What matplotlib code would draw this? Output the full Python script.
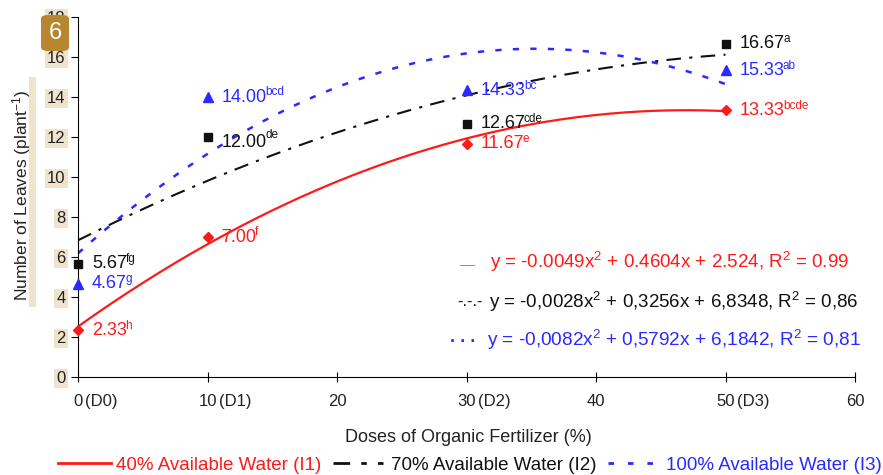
import numpy as np
import matplotlib
matplotlib.use("Agg")
import matplotlib.pyplot as plt
from matplotlib.lines import Line2D
from matplotlib.patches import FancyBboxPatch, Rectangle

# ---- data ----
doses = [0, 10, 30, 50]
i1_vals = [2.33, 7.00, 11.67, 13.33]
i2_vals = [5.67, 12.00, 12.67, 16.67]
i3_vals = [4.67, 14.00, 14.33, 15.33]
i1_letters = ["h", "f", "e", "bcde"]
i2_letters = ["fg", "de", "cde", "a"]
i3_letters = ["g", "bcd", "bc", "ab"]
i1_coef = [-0.0049, 0.4604, 2.524]
i2_coef = [-0.0028, 0.3256, 6.8348]
i3_coef = [-0.0082, 0.5792, 6.1842]
x_ticks = [0, 10, 20, 30, 40, 50, 60]
x_tick_numbers = ["0", "10", "20", "30", "40", "50", "60"]
x_tick_suffix = ["(D0)", "(D1)", "", "(D2)", "", "(D3)", ""]
y_ticks = [0, 2, 4, 6, 8, 10, 12, 14, 16, 18]
eq_texts = ["y = -0.0049x$^2$ + 0.4604x + 2.524, R$^2$ = 0.99",
            "y = -0,0028x$^2$ + 0,3256x + 6,8348, R$^2$ = 0,86",
            "y = -0,0082x$^2$ + 0,5792x + 6,1842, R$^2$ = 0,81"]
legend_labels = ["40% Available Water (I1)", "70% Available Water (I2)",
                 "100% Available Water (I3)"]

RED = "#ff1a1a"
BLACK = "#111111"
BLUE = "#2a2aff"
BEIGE = "#efe3cc"
W, H = 883, 475

plt.rcParams['font.family'] = ['Liberation Sans', 'DejaVu Sans']
plt.rcParams['mathtext.fontset'] = 'custom'
plt.rcParams['mathtext.rm'] = 'Liberation Sans'
plt.rcParams['mathtext.it'] = 'Liberation Sans'

fig = plt.figure(figsize=(8.83, 4.75), dpi=100)
ax = fig.add_axes([78 / W, (H - 377) / H, (855 - 78) / W, (377 - 17) / H])

xs = np.linspace(0, 50, 200)
ax.plot(xs, np.polyval(i1_coef, xs), color=RED, lw=1.6, ls='-')
ax.plot(xs, np.polyval(i2_coef, xs), color=BLACK, lw=1.5,
        dashes=(7, 4, 1.5, 4))
ax.plot(xs, np.polyval(i3_coef, xs), color=BLUE, lw=1.8, dashes=(2.5, 4.5))

ax.plot(doses, i2_vals, 's', color=BLACK, ms=6, clip_on=False, zorder=5)
ax.plot(doses, i3_vals, '^', color=BLUE, ms=7.5, clip_on=False, zorder=5)
ax.plot(doses, i1_vals, 'D', color=RED, ms=5.5, clip_on=False, zorder=5)

for name, vals, letters, col in [("I1", i1_vals, i1_letters, RED),
                                 ("I2", i2_vals, i2_letters, BLACK),
                                 ("I3", i3_vals, i3_letters, BLUE)]:
    for x, v, lt in zip(doses, vals, letters):
        dy = -4 if (name == "I2" and x == 10) else 0
        main = ax.annotate(f"{v:.2f}", (x, v), xytext=(10, dy),
                           textcoords='offset points', ha='left',
                           va='center', fontsize=13, color=col)
        sup_dy = 4 if dy else 1.5
        ax.annotate(lt, xy=(1, 1), xycoords=main, xytext=(-1, sup_dy),
                    textcoords='offset points', ha='left', va='top',
                    fontsize=8.5, color=col)

ax.set_xlim(0, 60)
ax.set_ylim(0, 18)
ax.set_xticks(x_ticks)
ax.set_xticklabels(x_tick_numbers)
ax.set_yticks(y_ticks)
for s in ['top', 'right']:
    ax.spines[s].set_visible(False)
ax.tick_params(axis='x', direction='inout', length=7, labelsize=12, pad=9,
               labelcolor='#222222')
ax.tick_params(axis='y', direction='out', length=5, labelsize=12, pad=4,
               labelcolor='#222222')
for lab in ax.get_yticklabels():
    lab.set_bbox(dict(facecolor=BEIGE, edgecolor='none', pad=1.5))

fig.canvas.draw()
for tick, suf in zip(ax.xaxis.get_major_ticks(), x_tick_suffix):
    if suf:
        ax.annotate(suf, xy=(1, 0), xycoords=tick.label1,
                    xytext=(1.5, 0), textcoords='offset points',
                    ha='left', va='bottom', fontsize=12, color='#222222')

fig.text(468 / W, 1 - 437 / H, "Doses of Organic Fertilizer (%)",
         fontsize=13, ha='center', va='center', color='#222222')

# y label with beige strip
fig.patches.append(Rectangle((29 / W, 1 - 307 / H), 7 / W, 230 / H,
                             transform=fig.transFigure, facecolor=BEIGE,
                             edgecolor='none', zorder=0))
fig.text(22 / W, 1 - 195 / H, "Number of Leaves (plant$^{-1}$)",
         fontsize=12.5, rotation=90, ha='center', va='center',
         color='#222222')

# equations
fig.text(460 / W, 1 - 265 / H, "—", color="#b07878", fontsize=11,
         va='center')
fig.text(490 / W, 1 - 262 / H, eq_texts[0], color=RED, fontsize=13.5,
         va='center')
fig.text(457 / W, 1 - 302 / H, "-.-.-", color=BLACK, fontsize=12,
         va='center')
fig.text(489 / W, 1 - 302 / H, eq_texts[1], color=BLACK, fontsize=13.5,
         va='center')
fig.text(450 / W, 1 - 338 / H, ". . .", color=BLUE, fontsize=13,
         va='center', fontweight='bold')
fig.text(487 / W, 1 - 340 / H, eq_texts[2], color=BLUE, fontsize=13.7,
         va='center')

# legend
handles = [Line2D([], [], color=RED, lw=2),
           Line2D([], [], color=BLACK, lw=2, dashes=(6, 4, 2, 4, 2, 4)),
           Line2D([], [], color=BLUE, lw=2, dashes=(2, 5))]
leg = fig.legend(handles, legend_labels, loc='center', ncol=3,
                 bbox_to_anchor=(470 / W, 1 - 465 / H), frameon=False,
                 fontsize=13.5, handlelength=2.8, handletextpad=0.3,
                 columnspacing=0.6, borderaxespad=0, borderpad=0)
for t, c in zip(leg.get_texts(), [RED, BLACK, BLUE]):
    t.set_color(c)

# badge
fig.patches.append(FancyBboxPatch((41 / W, 1 - 51 / H), 28 / W, 36 / H,
                                  boxstyle='round,pad=0,rounding_size=0.008',
                                  transform=fig.transFigure,
                                  facecolor='#b8862f', edgecolor='none',
                                  zorder=10))
fig.text(55 / W, 1 - 33 / H, "6", color='white', fontsize=17, ha='center',
         va='center', zorder=11)

fig.savefig("out.png", dpi=100)
